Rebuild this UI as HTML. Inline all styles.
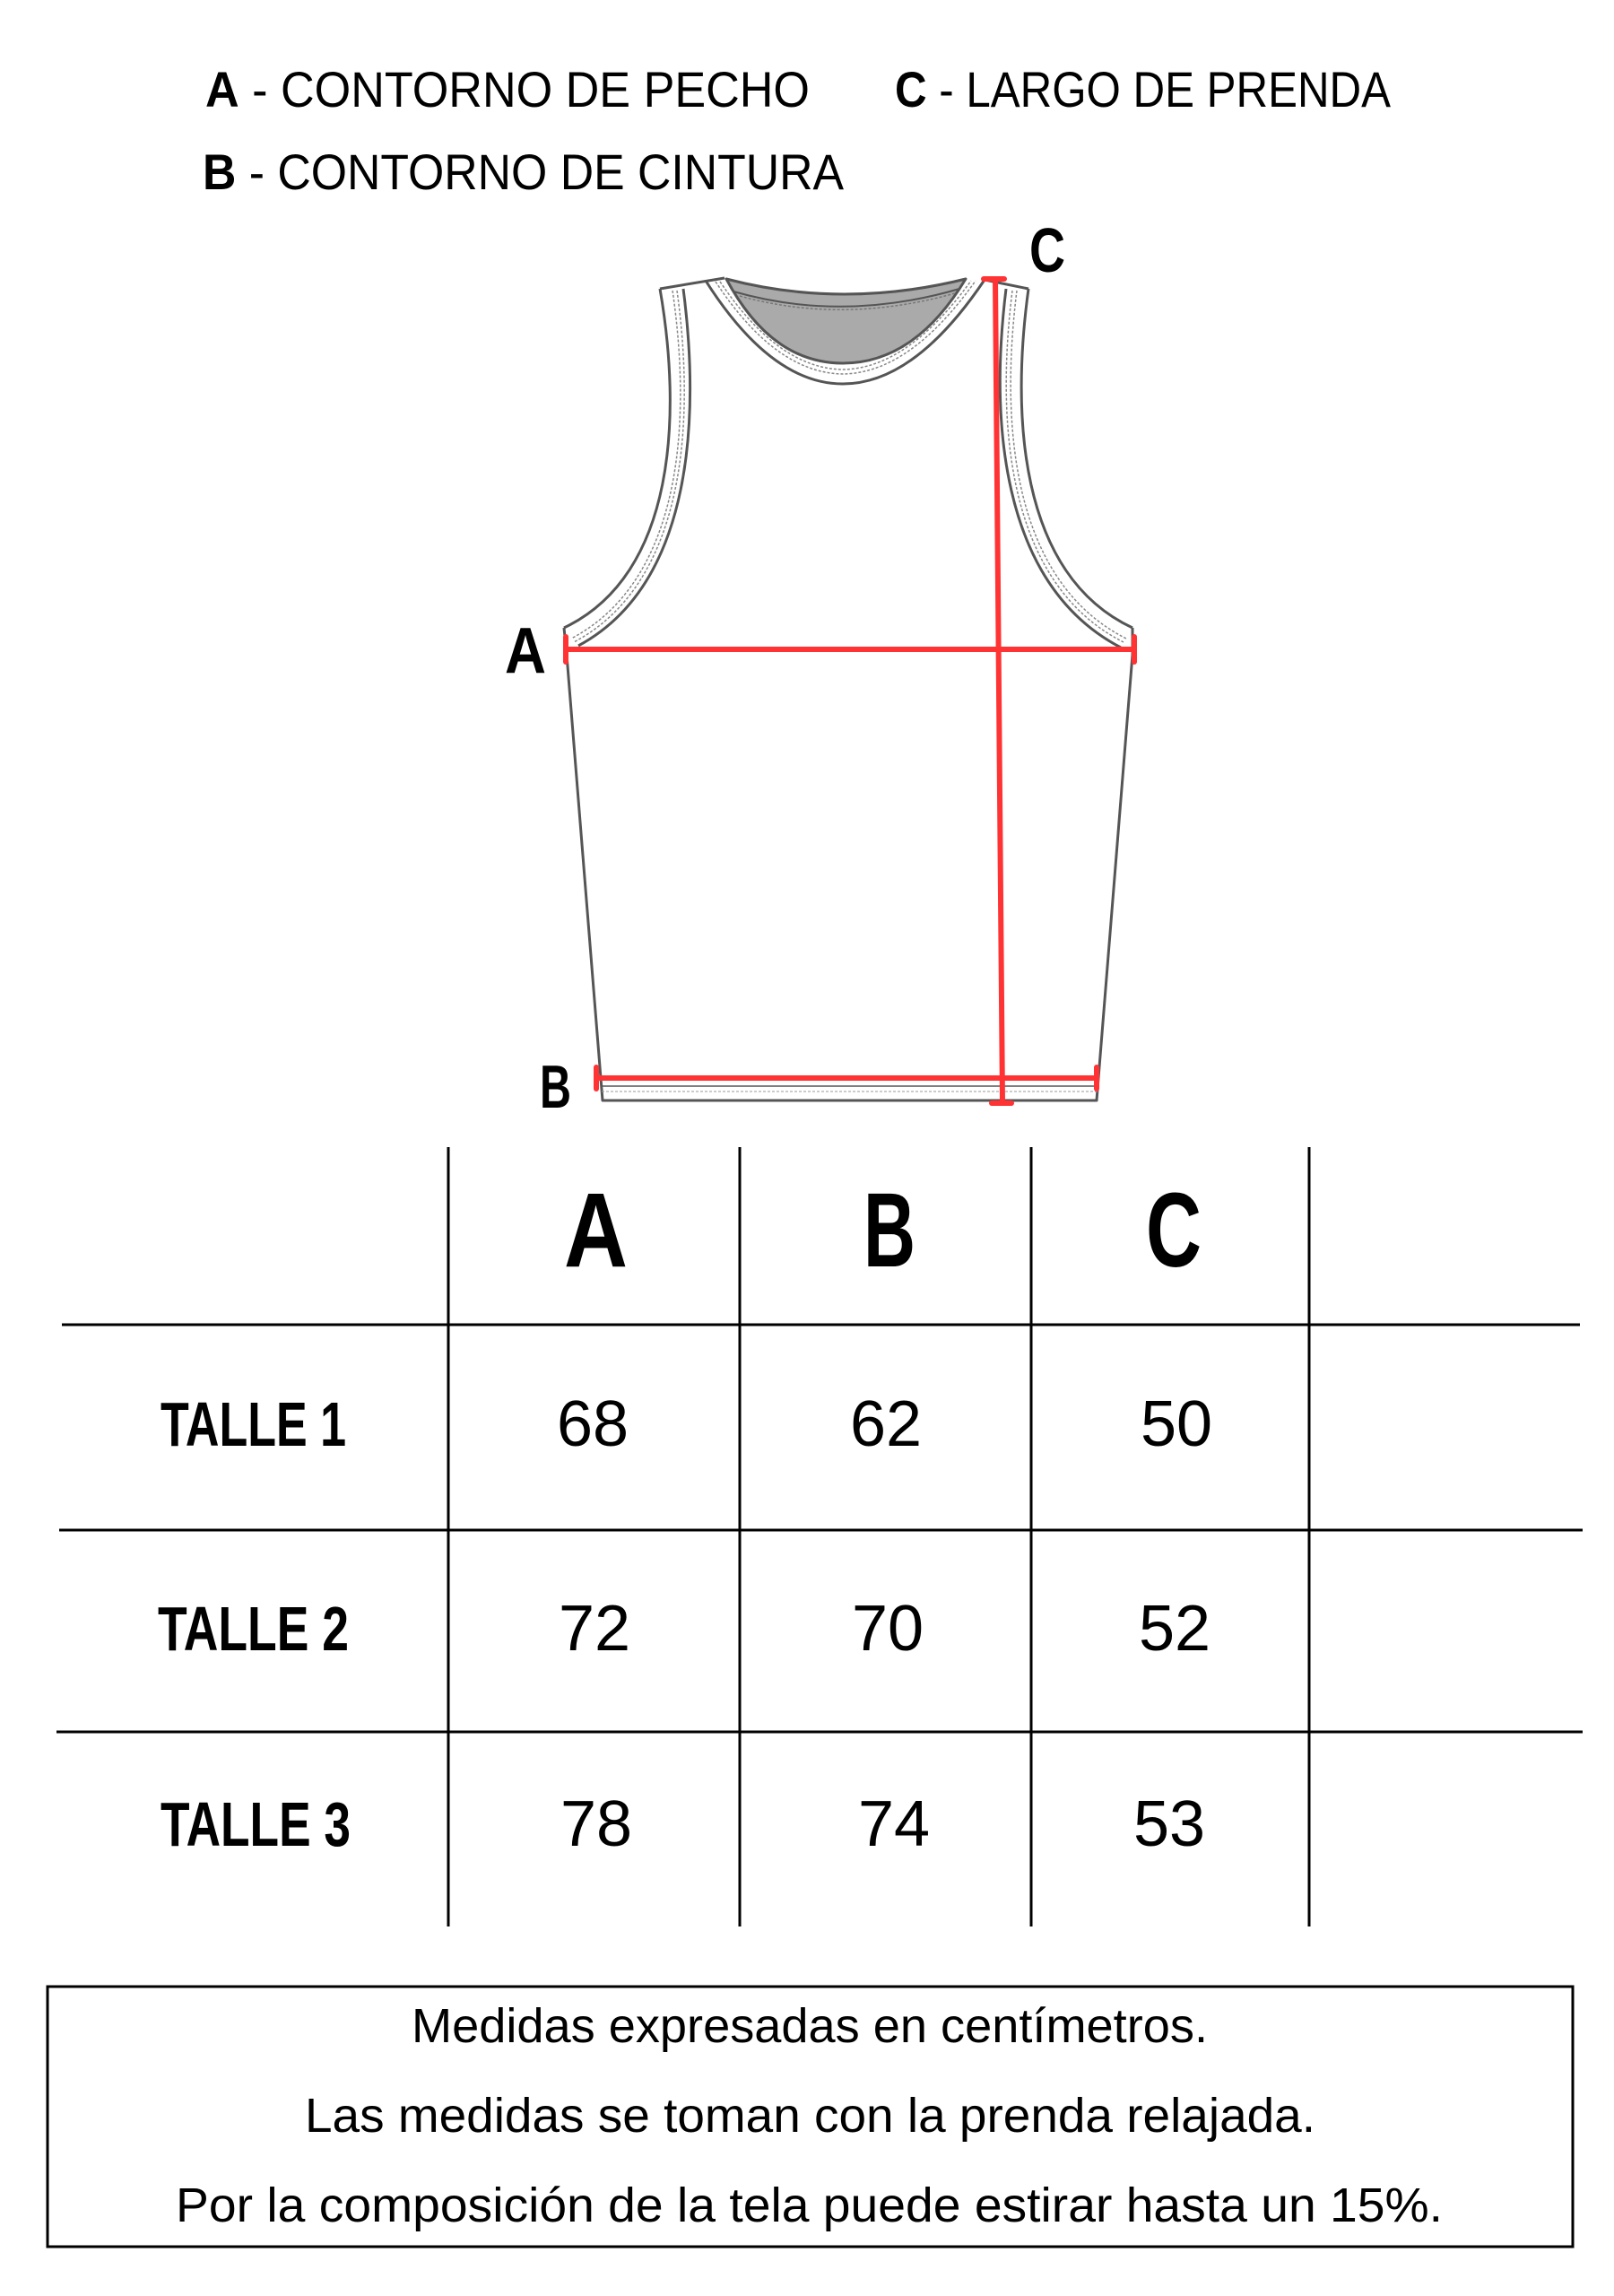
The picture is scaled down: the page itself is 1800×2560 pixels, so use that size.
<!DOCTYPE html>
<html><head><meta charset="utf-8"><style>
html,body{margin:0;padding:0;background:#fff}
svg{display:block}
text{font-family:"Liberation Sans",sans-serif;fill:#000}
</style></head><body>
<svg width="1800" height="2560" viewBox="0 0 1800 2560" xmlns="http://www.w3.org/2000/svg">
<text x="229" y="119" font-size="56" textLength="674" lengthAdjust="spacingAndGlyphs"><tspan font-weight="bold">A</tspan> - CONTORNO DE PECHO</text>
<text x="998" y="119" font-size="56" textLength="553" lengthAdjust="spacingAndGlyphs"><tspan font-weight="bold">C</tspan> - LARGO DE PRENDA</text>
<text x="226" y="211" font-size="56" textLength="715" lengthAdjust="spacingAndGlyphs"><tspan font-weight="bold">B</tspan> - CONTORNO DE CINTURA</text>

<g fill="none" stroke="#555" stroke-width="3" stroke-linejoin="round">
  <path d="M810,311 Q940,345 1077,311 Q1020,405 940,405 Q860,405 810,311 Z" fill="#aaa"/>
  <path d="M818,325 Q940,360 1070,322" stroke-width="2"/>
  <path d="M825,330 Q940,362 1065,327" stroke="#777" stroke-width="1.5" stroke-dasharray="3,2"/>
  <path d="M787,313 Q860,428 940,428 Q1020,428 1098,312" />
  <path d="M798,314 Q865,416 940,417 Q1015,416 1088,313" stroke="#888" stroke-width="1.5" stroke-dasharray="3,2"/>
  <path d="M803,314 Q868,411 940,412 Q1012,411 1083,313" stroke="#888" stroke-width="1.5" stroke-dasharray="3,2"/>
  <path d="M736,322 L808,310"/>
  <path d="M1098,312 L1147,322"/>
  <path d="M736,322 C760,460 755,640 629,700"/>
  <path d="M762,322 C780,460 775,650 645,720"/>
  <path d="M750,324 C770,460 765,645 637,712" stroke="#888" stroke-width="1.5" stroke-dasharray="3,2"/>
  <path d="M755,324 C774,460 769,648 640,716" stroke="#888" stroke-width="1.5" stroke-dasharray="3,2"/>
  <path d="M1147,322 C1128,460 1135,640 1263,700"/>
  <path d="M1122,322 C1105,460 1112,650 1250,722"/>
  <path d="M1134,324 C1117,460 1123,645 1256,712" stroke="#888" stroke-width="1.5" stroke-dasharray="3,2"/>
  <path d="M1129,324 C1112,460 1118,648 1253,716" stroke="#888" stroke-width="1.5" stroke-dasharray="3,2"/>
  <path d="M629,700 L632,730 L672,1227 L1223,1227 L1263,730 L1263,700"/>
  <path d="M671,1211 L1224,1211" stroke-width="1.5"/>
  <path d="M671,1217 L1224,1217" stroke="#999" stroke-width="1" stroke-dasharray="3,2"/>
</g>
<g stroke="#f33" stroke-width="6" stroke-linecap="round">
  <path d="M631,724 L1265,724"/>
  <path d="M631,710 L631,738"/>
  <path d="M1265,710 L1265,738"/>
  <path d="M665,1202 L1223,1202"/>
  <path d="M665,1190 L665,1214"/>
  <path d="M1223,1190 L1223,1214"/>
  <path d="M1110,311 L1118,1230"/>
  <path d="M1097,311 L1120,311"/>
  <path d="M1106,1230 L1128,1230"/>
</g>
<text x="563" y="750" font-size="72" font-weight="bold" textLength="46" lengthAdjust="spacingAndGlyphs">A</text>
<text x="602" y="1235" font-size="68" font-weight="bold" textLength="35" lengthAdjust="spacingAndGlyphs">B</text>
<text x="1148" y="303" font-size="70" font-weight="bold" textLength="40" lengthAdjust="spacingAndGlyphs">C</text>

<g stroke="#000" stroke-width="3">
  <path d="M500,1279 L500,2148"/>
  <path d="M825,1279 L825,2148"/>
  <path d="M1150,1279 L1150,2148"/>
  <path d="M1460,1279 L1460,2148"/>
  <path d="M69,1477 L1762,1477"/>
  <path d="M66,1706 L1765,1706"/>
  <path d="M63,1931 L1765,1931"/>
</g>
<g font-weight="bold" font-size="118">
  <text x="629" y="1412" textLength="71" lengthAdjust="spacingAndGlyphs">A</text>
  <text x="963" y="1412" textLength="58" lengthAdjust="spacingAndGlyphs">B</text>
  <text x="1278" y="1412" textLength="62" lengthAdjust="spacingAndGlyphs">C</text>
</g>
<g font-weight="bold" font-size="70">
  <text x="179" y="1612" textLength="207" lengthAdjust="spacingAndGlyphs">TALLE 1</text>
  <text x="176" y="1840" textLength="213" lengthAdjust="spacingAndGlyphs">TALLE 2</text>
  <text x="179" y="2058" textLength="212" lengthAdjust="spacingAndGlyphs">TALLE 3</text>
</g>
<g font-size="72" text-anchor="middle">
  <text x="661" y="1612">68</text>
  <text x="988" y="1612">62</text>
  <text x="1312" y="1612">50</text>
  <text x="663" y="1840">72</text>
  <text x="990" y="1840">70</text>
  <text x="1310" y="1840">52</text>
  <text x="665" y="2058">78</text>
  <text x="997" y="2058">74</text>
  <text x="1304" y="2058">53</text>
</g>

<rect x="53" y="2215" width="1701" height="290" fill="none" stroke="#000" stroke-width="3"/>
<g font-size="54">
  <text x="459" y="2277" textLength="888" lengthAdjust="spacingAndGlyphs">Medidas expresadas en centímetros.</text>
  <text x="340" y="2377" textLength="1127" lengthAdjust="spacingAndGlyphs">Las medidas se toman con la prenda relajada.</text>
  <text x="196" y="2477" textLength="1413" lengthAdjust="spacingAndGlyphs">Por la composición de la tela puede estirar hasta un 15%.</text>
</g>
</svg>
</body></html>
